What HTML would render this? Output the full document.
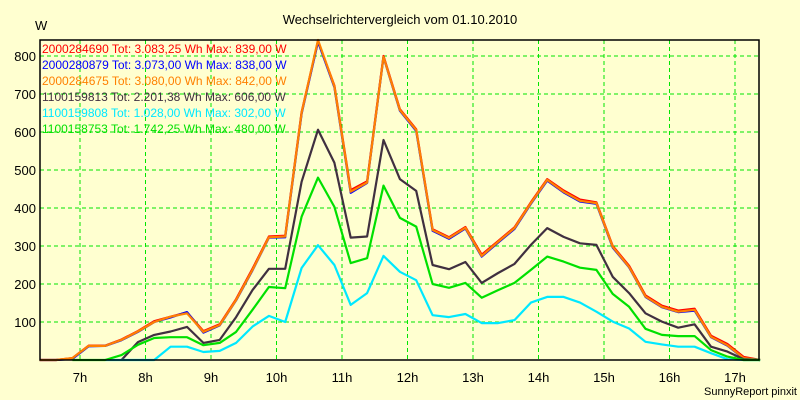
<!DOCTYPE html>
<html><head><meta charset="utf-8"><style>
body{margin:0;background:#ffffd0;}
svg{display:block;font-family:"Liberation Sans",Arial,sans-serif;}
</style></head><body>
<svg id="chart" width="800" height="400" viewBox="0 0 800 400" xmlns="http://www.w3.org/2000/svg">
<rect x="0" y="0" width="800" height="400" fill="#ffffd0"/>
<text x="400" y="24" font-size="13" text-anchor="middle" fill="#000">Wechselrichtervergleich vom 01.10.2010</text>
<text x="35" y="30" font-size="13" fill="#000">W</text>
<g id="grid"></g><g id="yticks"></g><g id="xticks"></g><g id="series"></g>
<rect x="40" y="40" width="719" height="320" fill="none" stroke="#000" stroke-width="1.5"/>
<g id="legend"></g>
<text x="797" y="395" font-size="11" text-anchor="end" fill="#000">SunnyReport pinxit</text>
</svg>
<script>
const times=["6:23","6:38","6:53","7:08","7:23","7:38","7:53","8:08","8:23","8:38","8:53","9:08","9:23","9:38","9:53","10:08","10:23","10:38","10:53","11:08","11:23","11:38","11:53","12:08","12:23","12:38","12:53","13:08","13:23","13:38","13:53","14:08","14:23","14:38","14:53","15:08","15:23","15:38","15:53","16:08","16:23","16:38","16:53","17:08","17:23"];
const redVals=[0,0,5,38,38,54,76,102,114,125,76,94,160,240,325,327,652,839,722,447,470,800,660,607,344,323,350,277,313,349,415,476,446,422,415,300,248,170,143,130,135,64,42,8,0];
const blueVals=[0,0,3,36,37,52,74,100,112,126,72,91,157,236,322,323,648,838,718,440,466,797,656,603,340,319,346,272,309,345,411,472,441,417,411,296,244,166,139,126,130,60,38,4,0];
const orangeVals=[0,0,5,37,37,53,75,100,114,123,74,92,158,237,323,325,650,842,720,443,467,798,658,605,342,321,348,274,311,347,413,474,443,419,413,298,245,167,140,127,132,61,39,5,0];
const darkVals=[null,null,null,null,null,0,47,66,75,87,45,53,113,184,240,240,469,606,519,322,325,579,476,445,250,239,258,203,229,253,303,347,324,307,303,219,176,123,101,85,94,35,22,2,0];
const cyanVals=[null,null,null,null,0,0,0,0,35,35,21,24,45,88,116,100,242,302,250,145,176,274,232,210,118,113,121,97,97,105,151,166,166,151,127,101,83,48,41,35,35,18,2,0,0];
const greenVals=[null,null,0,0,0,13,40,58,60,60,39,45,74,132,192,189,377,480,403,255,268,459,374,351,200,190,203,164,184,203,237,272,259,243,237,174,140,82,66,63,63,26,9,0,0];
const yTicks=[100,200,300,400,500,600,700,800];
const xTicks=["7h","8h","9h","10h","11h","12h","13h","14h","15h","16h","17h"];
const legendLabels=["2000284690 Tot: 3.083,25 Wh Max: 839,00 W","2000280879 Tot: 3.073,00 Wh Max: 838,00 W","2000284675 Tot: 3.080,00 Wh Max: 842,00 W","1100159813 Tot: 2.201,38 Wh Max: 606,00 W","1100159808 Tot: 1.028,00 Wh Max: 302,00 W","1100158753 Tot: 1.742,25 Wh Max: 480,00 W"];
const NS="http://www.w3.org/2000/svg";
function tHours(s){const p=s.split(":");return +p[0]+(+p[1])/60;}
function xs(h){return 80+(h-7)*65.5;}
function ys(v){return 360-v*0.38;}
function mk(tag,attrs,parent){const e=document.createElementNS(NS,tag);for(const k in attrs)e.setAttribute(k,attrs[k]);parent.appendChild(e);return e;}
const grid=document.getElementById('grid'),yt=document.getElementById('yticks'),xt=document.getElementById('xticks'),sg=document.getElementById('series'),lg=document.getElementById('legend');
yTicks.forEach(v=>{
  const l=mk('line',{x1:40,x2:759,y1:ys(v),y2:ys(v),stroke:'#00e600','stroke-width':1,'stroke-dasharray':'4,3'},grid);
  
  
  const t=mk('text',{x:36,y:ys(v)+5,'font-size':13,'text-anchor':'end',fill:'#000'},yt);
  t.textContent=v;
  
  
});
xTicks.forEach(s=>{
  const h=parseInt(s);const x=xs(h);
  const l=mk('line',{x1:x,x2:x,y1:40,y2:360,stroke:'#00e600','stroke-width':1,'stroke-dasharray':'4,3'},grid);
  
  
  const t=mk('text',{x:x,y:382,'font-size':13,'text-anchor':'middle',fill:'#000'},xt);
  t.textContent=s;
  
  
});
const seriesList=[[redVals,'#ff0000','series-2000284690'],[blueVals,'#0000ff','series-2000280879'],[orangeVals,'#ff8000','series-2000284675'],[darkVals,'#403040','series-1100159813'],[cyanVals,'#00e8ff','series-1100159808'],[greenVals,'#00e000','series-1100158753']];
seriesList.forEach(s=>{
  let d='';let pen=false;
  s[0].forEach((v,i)=>{if(v===null){pen=false;return;}d+=(pen?'L':'M')+xs(tHours(times[i])).toFixed(1)+','+ys(v).toFixed(1);pen=true;});
  const p=mk('path',{d:d,fill:'none',stroke:s[1],'stroke-width':2.2,'stroke-linejoin':'round'},sg);
  
  
});
legendLabels.forEach((txt,i)=>{
  const t=mk('text',{x:42,y:53+i*16,'font-size':12,fill:seriesList[i][1]},lg);
  t.textContent=txt;
  
  
});
</script>
</body></html>
